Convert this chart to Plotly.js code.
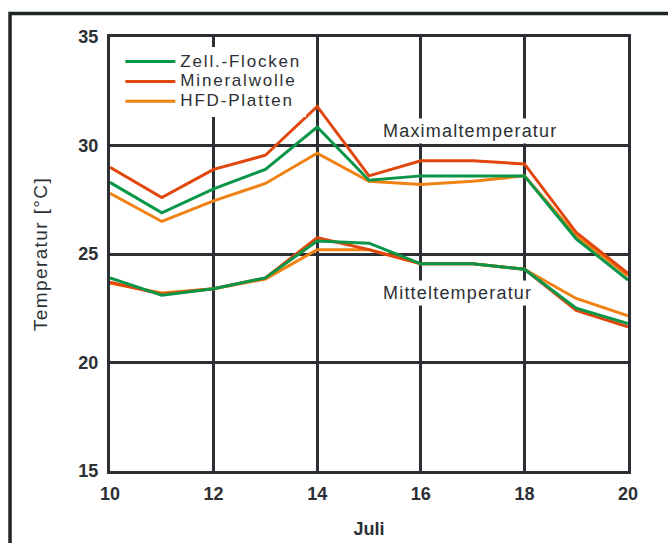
<!DOCTYPE html>
<html>
<head>
<meta charset="utf-8">
<script src="https://cdn.plot.ly/plotly-3.0.1.min.js"></script>
<style>
html,body{margin:0;padding:0;background:#fff;}
#chart{width:668px;height:543px;}
.legendtext{letter-spacing:1.8px;font-size:17px !important;}
.annotation-text{letter-spacing:1.2px;}
.ytitle{letter-spacing:1.4px;}
</style>
</head>
<body>
<div id="chart"></div>
<script>
const days = [10, 11, 12, 13, 14, 15, 16, 17, 18, 19, 20];
const seriesNames = ["Zell.-Flocken", "Mineralwolle", "HFD-Platten"];
const zellMax    = [28.3, 26.9, 28.0, 28.9, 30.85, 28.4, 28.6, 28.6, 28.6, 25.7, 23.8];
const mineralMax = [29.0, 27.6, 28.9, 29.55, 31.8, 28.6, 29.3, 29.3, 29.15, 26.0, 24.1];
const hfdMax     = [27.8, 26.5, 27.45, 28.25, 29.65, 28.35, 28.2, 28.35, 28.6, 25.85, 24.0];
const zellMit    = [23.9, 23.1, 23.4, 23.9, 25.6, 25.5, 24.55, 24.55, 24.3, 22.5, 21.8];
const mineralMit = [23.7, 23.15, 23.4, 23.9, 25.75, 25.2, 24.55, 24.55, 24.3, 22.4, 21.65];
const hfdMit     = [23.65, 23.2, 23.4, 23.85, 25.2, 25.2, 24.55, 24.55, 24.3, 22.95, 22.15];
const annotationLabels = ["Maximaltemperatur", "Mitteltemperatur"];
const xTicks = [10, 12, 14, 16, 18, 20];
const yTicks = [15, 20, 25, 30, 35];

const colors = {green: "#0a9648", red: "#e1460c", orange: "#f08214"};
const ink = "#2c2f33";
const font = "Liberation Sans, Arial, sans-serif";

function tr(name, y, color, rank, show) {
  return {
    x: days, y: y, type: "scatter", mode: "lines", name: name,
    legendgroup: name, showlegend: show, legendrank: rank,
    line: {color: color, width: 3}, hoverinfo: "skip"
  };
}
const data = [
  tr(seriesNames[2], hfdMax, colors.orange, 3, true),
  tr(seriesNames[2], hfdMit, colors.orange, 3, false),
  tr(seriesNames[1], mineralMax, colors.red, 2, true),
  tr(seriesNames[1], mineralMit, colors.red, 2, false),
  tr(seriesNames[0], zellMax, colors.green, 1, true),
  tr(seriesNames[0], zellMit, colors.green, 1, false)
];

const layout = {
  width: 668, height: 543,
  margin: {l: 110, r: 40, t: 37, b: 72},
  paper_bgcolor: "#fff", plot_bgcolor: "#fff",
  font: {family: font, color: ink, size: 17},
  showlegend: true,
  legend: {
    x: 0.02, xanchor: "left", y: 0.978, yanchor: "top",
    bgcolor: "#fff", borderwidth: 0,
    font: {family: font, size: 13, color: ink},
    itemwidth: 50, tracegroupgap: 0
  },
  xaxis: {
    range: [10, 20], tickvals: xTicks, ticktext: xTicks.map(String),
    showgrid: true, gridcolor: ink, gridwidth: 3,
    showline: true, linecolor: ink, linewidth: 3, mirror: true,
    zeroline: false, ticks: "", ticklabelstandoff: 4,
    tickfont: {family: font, size: 18, weight: "bold", color: ink},
    title: {text: "Juli", font: {family: font, size: 18, weight: "bold", color: ink}, standoff: 20},
    fixedrange: true
  },
  yaxis: {
    range: [15, 35], tickvals: yTicks, ticktext: yTicks.map(String),
    showgrid: true, gridcolor: ink, gridwidth: 3,
    showline: true, linecolor: ink, linewidth: 3, mirror: true,
    zeroline: false, ticks: "", ticklabelstandoff: 5,
    tickfont: {family: font, size: 18, weight: "bold", color: ink},
    title: {text: "Temperatur [°C]", font: {family: font, size: 19, color: ink}, standoff: 26},
    fixedrange: true
  },
  annotations: [
    {x: 15.22, y: 30.67, xref: "x", yref: "y", text: annotationLabels[0], showarrow: false,
     xanchor: "left", yanchor: "middle", bgcolor: "#fff", borderpad: 2,
     font: {family: font, size: 18, color: ink}},
    {x: 15.22, y: 23.2, xref: "x", yref: "y", text: annotationLabels[1], showarrow: false,
     xanchor: "left", yanchor: "middle", bgcolor: "#fff", borderpad: 2,
     font: {family: font, size: 18, color: ink}}
  ],
  shapes: [
    {type: "path", xref: "paper", yref: "paper",
     path: "M -0.193,-0.2 L -0.193,1.054 L 1.1,1.054",
     line: {color: "#1f2427", width: 3.5}}
  ]
};

Plotly.newPlot("chart", data, layout, {displayModeBar: false, staticPlot: true});
</script>
</body>
</html>
